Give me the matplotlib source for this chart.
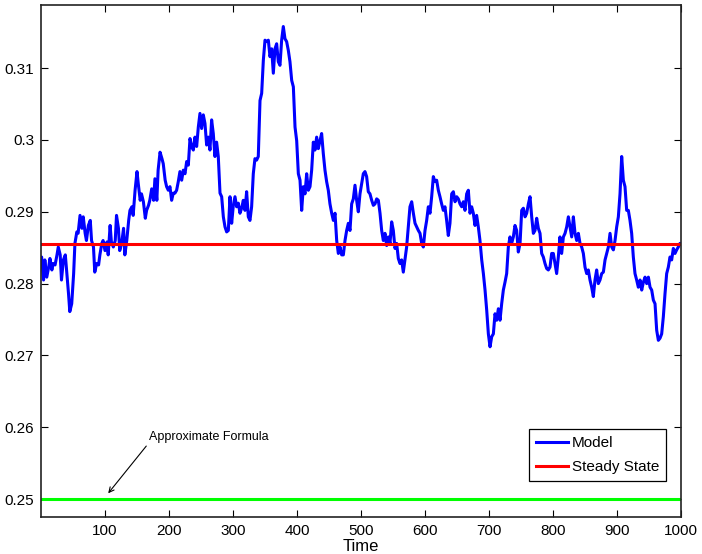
import numpy as np
import matplotlib
matplotlib.use('Agg')
import matplotlib.pyplot as plt

# Model trajectory (time, value)
time = [0, 1, 4, 6, 9, 12, 14, 17, 19, 22, 25, 27, 30, 32, 35, 38, 40, 43, 45, 48,
        51, 53, 56, 58, 61, 64, 66, 69, 71, 74, 77, 79, 82, 84, 87, 90, 92, 95, 97, 100,
        103, 105, 108, 110, 113, 116, 118, 121, 123, 126, 129, 131, 134, 137, 139, 142,
        144, 147, 150, 152, 155, 157, 160, 163, 165, 168, 170, 173, 176, 178, 181, 183,
        186, 189, 191, 194, 196.3, 198.9, 201.5, 204.1, 206.7, 209.3, 211.9, 214.5,
        217.1, 219.8, 222.4, 225, 227.6, 230.2, 232.8, 235.4, 238, 240.6, 243.2, 245.8,
        248.4, 251, 253.6, 256.2, 258.8, 261.4, 264, 266.6, 269.2, 271.8, 274.4, 277,
        279.7, 282.3, 284.9, 287.5, 290.1, 292.7, 295.3, 297.9, 300.5, 303.1, 305.7,
        308.3, 310.9, 313.5, 316.1, 318.7, 321.3, 323.9, 326.5, 329.1, 331.7, 334.3,
        336.9, 339.5, 342.2, 344.8, 347.4, 350, 352.6, 355.2, 357.8, 360.4, 363, 365.6,
        368.2, 370.8, 373.4, 376, 378.6, 381.2, 383.8, 386.4, 389, 391.7, 394.3, 396.9,
        399.5, 402.1, 404.7, 407.3, 409.9, 412.5, 415.1, 417.7, 420.3, 422.9, 425.5,
        428.1, 430.7, 433.3, 435.9, 438.5, 441.1, 443.7, 446.3, 448.9, 451.5, 454.2,
        456.8, 459.4, 462, 464.6, 467.2, 469.8, 472.4, 475, 477.6, 480.2, 482.8, 485.4,
        488, 490.6, 493.2, 495.8, 498.4, 501, 503.6, 506.2, 508.8, 511.4, 514, 516.7,
        519.3, 521.9, 524.5, 527.1, 529.7, 532.3, 534.9, 537.5, 540.1, 542.7, 545.3,
        547.9, 550.5, 553.1, 555.7, 558.3, 560.9, 563.5, 566.1, 568.7, 571.3, 573.9,
        576.5, 579.2, 581.8, 584.4, 587, 589.6, 592.2, 594.8, 597.4, 600, 602.6, 605.2,
        607.8, 610.4, 613, 615.6, 618.2, 620.8, 623.4, 626, 628.6, 631.2, 633.8, 636.4,
        639, 641.7, 644.3, 646.9, 649.5, 652.1, 654.7, 657.3, 659.9, 662.5, 665.1, 667.7,
        670.3, 672.9, 675.5, 678.1, 680.7, 683.3, 685.9, 688.6, 691.2, 693.8, 696.4, 699,
        701.6, 704.2, 706.8, 709.4, 712, 714.6, 717.2, 719.8, 722.4, 725, 727.6, 730.2,
        732.8, 735.4, 738, 740.6, 743.2, 745.8, 748.5, 751.1, 753.7, 756.3, 758.9, 761.5,
        764.1, 766.7, 769.3, 771.9, 774.5, 777.1, 779.7, 782.3, 784.9, 787.5, 790.1,
        792.7, 795.3, 797.9, 800.5, 803.1, 805.7, 808.3, 810.9, 813.5, 816.2, 818.8,
        821.4, 824, 826.6, 829.2, 831.8, 834.4, 837, 839.6, 842.2, 844.8, 847.4, 850,
        852.6, 855.2, 857.8, 860.4, 863, 865.6, 868.2, 870.8, 873.4, 876.1, 878.7, 881.3,
        883.9, 886.5, 889.1, 891.7, 894.3, 896.9, 899.5, 902.1, 904.7, 907.3, 909.9,
        912.5, 915.1, 917.7, 920.3, 922.9, 925.5, 928.1, 930.7, 933.3, 936, 938.6, 941.2,
        943.8, 946.4, 949, 951.6, 954.2, 956.8, 959.4, 962, 964.6, 967.2, 969.8, 972.4,
        975, 977.6, 980.2, 982.8, 985.4, 988, 990.6, 993.2, 995.8, 998.4, 1000]
model = [0.2835, 0.2837, 0.2805, 0.2833, 0.2809, 0.2823, 0.2835, 0.2819, 0.2828, 0.2826,
         0.2840, 0.2851, 0.2840, 0.2805, 0.2833, 0.2840, 0.2819, 0.2786, 0.2761, 0.2772,
         0.2814, 0.2856, 0.2872, 0.2870, 0.2895, 0.2877, 0.2893, 0.2870, 0.2860, 0.2881,
         0.2888, 0.2860, 0.2851, 0.2816, 0.2828, 0.2826, 0.2840, 0.2856, 0.2860, 0.2846,
         0.2858, 0.2840, 0.2881, 0.2858, 0.2851, 0.2860, 0.2895, 0.2877, 0.2846, 0.2856,
         0.2877, 0.2840, 0.2860, 0.2888, 0.2902, 0.2907, 0.2895, 0.2930, 0.2956, 0.2939,
         0.2916, 0.2925, 0.2914, 0.2891, 0.2902, 0.2909, 0.2916, 0.2932, 0.2916, 0.2946,
         0.2916, 0.2958, 0.2983, 0.2974, 0.2967, 0.2944, 0.2935, 0.2930, 0.2935, 0.2916,
         0.2926, 0.2926, 0.2930, 0.2942, 0.2956, 0.2944, 0.2958, 0.2953, 0.2970, 0.2965,
         0.3002, 0.2991, 0.2986, 0.3004, 0.2991, 0.3018, 0.3037, 0.3016, 0.3035, 0.3023,
         0.2993, 0.3004, 0.2986, 0.3028, 0.3009, 0.2977, 0.2997, 0.2977, 0.2926, 0.2921,
         0.2893, 0.2879, 0.2872, 0.2874, 0.2921, 0.2884, 0.2909, 0.2921, 0.2907, 0.2912,
         0.2898, 0.2905, 0.2916, 0.2902, 0.2928, 0.2893, 0.2888, 0.2907, 0.2953, 0.2974,
         0.2972, 0.2977, 0.3055, 0.3065, 0.3111, 0.3139, 0.3137, 0.3139, 0.3116, 0.3127,
         0.3093, 0.3127, 0.3134, 0.3109, 0.3104, 0.3139, 0.3158, 0.3141, 0.3137, 0.3125,
         0.3109, 0.3083, 0.3074, 0.3018, 0.2999, 0.2953, 0.2944, 0.2902, 0.2935, 0.2925,
         0.2953, 0.2930, 0.2935, 0.2958, 0.2997, 0.2986, 0.3004, 0.2988, 0.2999, 0.3009,
         0.2981, 0.2958, 0.2942, 0.2930, 0.2911, 0.2898, 0.2888, 0.2898, 0.2860, 0.2842,
         0.2851, 0.2840, 0.2840, 0.2860, 0.2874, 0.2884, 0.2874, 0.2911, 0.2918, 0.2937,
         0.2916, 0.2900, 0.2925, 0.2939, 0.2953, 0.2956, 0.2949, 0.2928, 0.2925, 0.2916,
         0.2909, 0.2911, 0.2918, 0.2916, 0.2898, 0.2874, 0.2860, 0.2870, 0.2853, 0.2865,
         0.2856, 0.2886, 0.2874, 0.2849, 0.2856, 0.2835, 0.2828, 0.2833, 0.2816, 0.2833,
         0.2851, 0.2879, 0.2907, 0.2914, 0.2898, 0.2884, 0.2879, 0.2874, 0.2870, 0.2856,
         0.2851, 0.2874, 0.2888, 0.2907, 0.2898, 0.2921, 0.2949, 0.2942, 0.2944, 0.2930,
         0.2921, 0.2911, 0.2902, 0.2907, 0.2888, 0.2867, 0.2884, 0.2925, 0.2928, 0.2914,
         0.2921, 0.2918, 0.2911, 0.2907, 0.2914, 0.2902, 0.2925, 0.2930, 0.2898, 0.2907,
         0.2898, 0.2881, 0.2895, 0.2879, 0.2860, 0.2833, 0.2814, 0.2791, 0.2763, 0.2730,
         0.2712, 0.2726, 0.2730, 0.2758, 0.2749, 0.2765, 0.2749, 0.2772, 0.2791, 0.2802,
         0.2814, 0.2851, 0.2865, 0.2856, 0.2865, 0.2881, 0.2874, 0.2844, 0.2856, 0.2902,
         0.2905, 0.2893, 0.2898, 0.2911, 0.2921, 0.2893, 0.2870, 0.2874, 0.2891, 0.2877,
         0.2870, 0.2842, 0.2837, 0.2828, 0.2821, 0.2819, 0.2823, 0.2842, 0.2842, 0.2828,
         0.2814, 0.2837, 0.2865, 0.2842, 0.2865, 0.2870, 0.2879, 0.2893, 0.2879, 0.2865,
         0.2893, 0.2870, 0.2860, 0.2870, 0.2856, 0.2851, 0.2842, 0.2823, 0.2814, 0.2819,
         0.2805, 0.2795, 0.2782, 0.2805, 0.2819, 0.2800, 0.2805, 0.2814, 0.2816, 0.2833,
         0.2842, 0.2851, 0.2870, 0.2851, 0.2847, 0.2860, 0.2879, 0.2893, 0.2925, 0.2977,
         0.2944, 0.2935, 0.2902, 0.2902, 0.2888, 0.2870, 0.2837, 0.2814, 0.2805, 0.2795,
         0.2805, 0.2791, 0.2802, 0.2809, 0.2800, 0.2809, 0.2795, 0.2791, 0.2777, 0.2772,
         0.2735, 0.2721, 0.2724, 0.2730, 0.2754, 0.2786, 0.2814, 0.2823, 0.2837, 0.2833,
         0.2849, 0.2842, 0.2847, 0.2851, 0.2856, 0.2855]

steady_state = 0.2855
approx_formula = 0.25

plt.rcParams['font.family'] = ['Liberation Sans', 'DejaVu Sans']

fig = plt.figure(figsize=(7.02, 5.54), dpi=100)
ax = fig.add_axes([0.0584, 0.0668, 0.9117, 0.9242])

ax.plot(time, model, color='#0000ff', lw=2.2, label='Model')
ax.axhline(steady_state, color='#ff0000', lw=2.2, label='Steady State')
ax.axhline(approx_formula, color='#00ff00', lw=2.2)

# note text and arrow pointing at the green line
ax.annotate('Approximate Formula', xy=(105, 0.2508), xytext=(168, 0.2586),
            fontsize=9, va='center', ha='left',
            arrowprops=dict(arrowstyle='->', color='black', lw=0.8,
                            shrinkA=0, shrinkB=0, relpos=(0, 0)))

ax.set_xlim(0, 1000)
ax.set_ylim(0.2475, 0.3188)
ax.set_xticks(np.arange(100, 1001, 100))
ax.set_yticks([0.25, 0.26, 0.27, 0.28, 0.29, 0.30, 0.31])
ax.set_yticklabels(['0.25', '0.26', '0.27', '0.28', '0.29', '0.3', '0.31'])
ax.tick_params(direction='in', top=True, right=True, length=5, labelsize=11, pad=5)
for s in ax.spines.values():
    s.set_linewidth(1.2)
    s.set_color('#222222')

ax.set_xlabel('Time', fontsize=12, labelpad=1)

leg = ax.legend(loc='lower right', bbox_to_anchor=(0.977, 0.070), borderaxespad=0,
                fontsize=11, fancybox=False, framealpha=1, edgecolor='black',
                handlelength=2.1, borderpad=0.45, labelspacing=0.65, handletextpad=0.25)
leg.get_frame().set_linewidth(0.9)

fig.savefig('out.png', dpi=100)
